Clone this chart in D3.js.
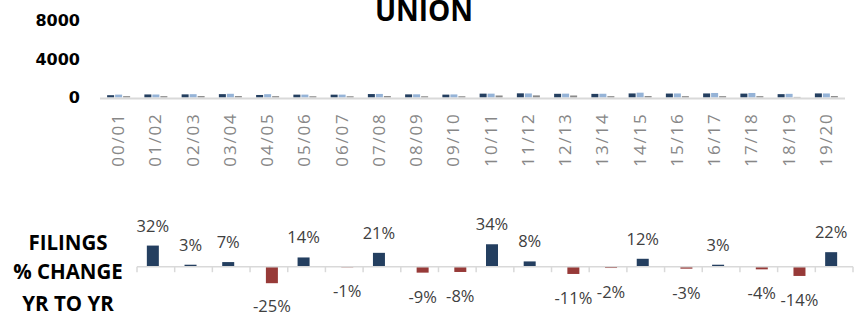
<!DOCTYPE html>
<html>
<head>
<meta charset="utf-8">
<script src="https://cdn.jsdelivr.net/npm/d3@7"></script>
<style>
  html, body { margin: 0; padding: 0; background: #fff; }
  svg { display: block; }
</style>
</head>
<body>
<script>
// Fiscal years on the category axis
const categories = ["00/01","01/02","02/03","03/04","04/05","05/06","06/07","07/08","08/09","09/10",
                    "10/11","11/12","12/13","13/14","14/15","15/16","16/17","17/18","18/19","19/20"];

// Annual counts for the three series (dark, light, grey)
const filings     = [240, 317, 326, 349, 262, 298, 295, 357, 325, 299, 401, 433, 385, 377, 423, 410, 422, 405, 348, 425];
const secondSeries = [300, 310, 345, 385, 345, 300, 300, 370, 330, 320, 400, 420, 400, 390, 500, 420, 470, 470, 380, 420];
const thirdSeries  = [140, 140, 150, 150, 140, 130, 130, 150, 130, 130, 210, 220, 210, 140, 150, 140, 140, 140, 60, 150];

// Year-over-year percent change in filings (01/02 onward)
const pctChange = [32, 3, 7, -25, 14, -1, 21, -9, -8, 34, 8, -11, -2, 12, -3, 3, -4, -14, 22];

// Value axis ticks for the upper chart
const yTicks = [0, 4000, 8000];

const seriesColors = ["#243f60", "#95b3d7", "#8a8a8a"];
const upColor = "#243f60", downColor = "#973a38";

const W = 857, H = 320;
const svg = d3.select("body").append("svg").attr("width", W).attr("height", H);

// ---------- Upper chart: counts by year ----------
const x = d3.scaleBand().domain(categories).range([100, 845]).padding(0);
const y = d3.scaleLinear().domain([0, 8000]).range([97.5, 20.5]);

svg.append("text")
  .attr("x", 424).attr("y", 21)
  .attr("text-anchor", "middle")
  .attr("font-family", "'Open Sans', sans-serif")
  .attr("font-weight", 700).attr("font-size", 28)
  .attr("fill", "#000")
  .text("UNION");

svg.append("g").selectAll("text").data(yTicks).join("text")
  .attr("x", 80).attr("y", d => y(d))
  .attr("text-anchor", "end").attr("dominant-baseline", "central")
  .attr("font-family", "'DejaVu Sans', sans-serif")
  .attr("font-weight", 700).attr("font-size", 16)
  .attr("fill", "#000")
  .text(d => d);

const series = [filings, secondSeries, thirdSeries];
const offsets = [-8, 0, 8];
const barW = 7;
series.forEach((vals, si) => {
  svg.append("g").selectAll("rect").data(vals).join("rect")
    .attr("x", (d, i) => x(categories[i]) + x.bandwidth() / 2 + offsets[si] - barW / 2)
    .attr("y", d => y(d))
    .attr("width", barW)
    .attr("height", d => y(0) - y(d))
    .attr("fill", seriesColors[si]);
});

svg.append("line")
  .attr("x1", 100).attr("x2", 845)
  .attr("y1", 98.5).attr("y2", 98.5)
  .attr("stroke", "#d9d9d9").attr("stroke-width", 2);

svg.append("g").selectAll("text").data(categories).join("text")
  .attr("transform", d => `translate(${x(d) + x.bandwidth() / 2 + 5.5},112.5) rotate(-90)`)
  .attr("text-anchor", "end")
  .attr("font-family", "'Open Sans', sans-serif")
  .attr("font-size", 17)
  .attr("letter-spacing", 1.8)
  .attr("fill", "#878787")
  .text(d => d);

// ---------- Lower chart: percent change ----------
const xb = d3.scaleBand().domain(categories.slice(1)).range([137, 853]).padding(0);
const yb = d3.scaleLinear().domain([-40, 40]).range([293.1, 240.3]);
const pw = 12;
const barX = (d, i) => xb(categories[i + 1]) + xb.bandwidth() / 2 + (d >= 0 ? -9 : -3);

svg.append("g").selectAll("rect").data(pctChange).join("rect")
  .attr("x", barX)
  .attr("y", d => d >= 0 ? yb(d) : yb(0))
  .attr("width", pw)
  .attr("height", d => Math.abs(yb(d) - yb(0)))
  .attr("fill", d => d >= 0 ? upColor : downColor);

// zero line with tick marks between years
svg.append("line")
  .attr("x1", 137).attr("x2", 853)
  .attr("y1", yb(0)).attr("y2", yb(0))
  .attr("stroke", "#d9d9d9").attr("stroke-width", 1.5);
const tickXs = categories.slice(1).map(c => xb(c)).concat([853]);
svg.append("g").selectAll("line").data(tickXs).join("line")
  .attr("x1", d => d).attr("x2", d => d)
  .attr("y1", yb(0)).attr("y2", yb(0) + 5.5)
  .attr("stroke", "#d9d9d9").attr("stroke-width", 1.5);

svg.append("g").selectAll("text").data(pctChange).join("text")
  .attr("x", (d, i) => barX(d, i) + pw / 2)
  .attr("y", d => d >= 0 ? yb(d) - 14 : Math.min(yb(d) + 30, 311.5))
  .attr("text-anchor", "middle")
  .attr("font-family", "'Open Sans', sans-serif")
  .attr("font-size", 16.5)
  .attr("fill", "#404040")
  .text(d => d + "%");

const sideLines = [["FILINGS", 250], ["% CHANGE", 279], ["YR TO YR", 311]];
svg.append("g").selectAll("text").data(sideLines).join("text")
  .attr("x", 68).attr("y", d => d[1])
  .attr("text-anchor", "middle")
  .attr("font-family", "'Open Sans', sans-serif")
  .attr("font-weight", 700).attr("font-size", 20.5)
  .attr("fill", "#000")
  .text(d => d[0]);
</script>
</body>
</html>
